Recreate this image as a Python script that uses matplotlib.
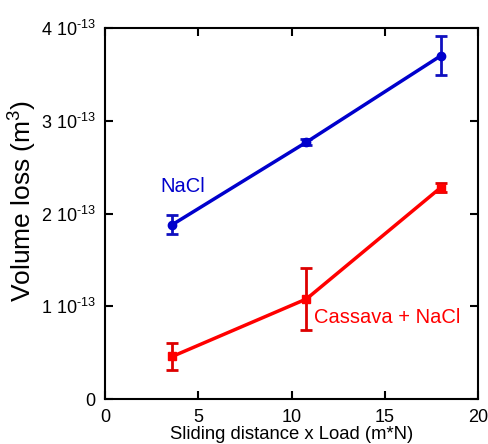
import matplotlib
matplotlib.use("Agg")
import matplotlib.pyplot as plt
import numpy as np

plt.rcParams['font.family'] = ['Liberation Sans', 'DejaVu Sans']
plt.rcParams['mathtext.fontset'] = 'custom'
plt.rcParams['mathtext.rm'] = 'Liberation Sans'
plt.rcParams['mathtext.it'] = 'Liberation Sans:italic'

# sliding distance x load (m*N)
x = [3.6, 10.8, 18.0]
# volume loss in units of 1e-13 m^3
nacl = [1.88, 2.77, 3.70]
nacl_err = [0.10, 0.03, 0.21]
cassava = [0.46, 1.08, 2.28]
cassava_err = [0.145, 0.33, 0.05]

yticks = [0, 1, 2, 3, 4]
ytick_labels = ['0'] + [f'{t} 10$^{{\\text{{-13}}}}$' for t in yticks[1:]]

fig = plt.figure(figsize=(4.89, 4.44), dpi=100)
ax = fig.add_axes([0.215, 0.101, 0.7625, 0.836])

ax.errorbar(x, nacl, yerr=nacl_err, color='#0000cc', ecolor='#1010c0',
            lw=2.5, marker='o', ms=6, elinewidth=2, capsize=4, capthick=2)
ax.errorbar(x, cassava, yerr=cassava_err, color='#ff0000', ecolor='#dd0000',
            lw=2.5, marker='s', ms=6, elinewidth=2, capsize=4, capthick=2)

ax.text(2.95, 2.29, 'NaCl', color='#0000cc', fontsize=14.5, va='center')
ax.text(11.2, 0.88, 'Cassava + NaCl', color='#ff0000', fontsize=14.5, va='center')

ax.set_xlim(0, 20)
ax.set_ylim(0, 4)
ax.set_xticks([0, 5, 10, 15, 20])
ax.set_yticks(yticks)
ax.set_yticklabels(ytick_labels)
ax.tick_params(direction='in', top=True, right=True, length=6, width=1.5,
               labelsize=13, pad=7)
for s in ax.spines.values():
    s.set_linewidth(1.5)

ax.set_xlabel('Sliding distance x Load (m*N)', fontsize=13.3, labelpad=0)
ax.set_ylabel('Volume loss (m$^3$)', fontsize=19)
ax.yaxis.set_label_coords(-0.178, 0.535)

fig.savefig('out.png', dpi=100)
